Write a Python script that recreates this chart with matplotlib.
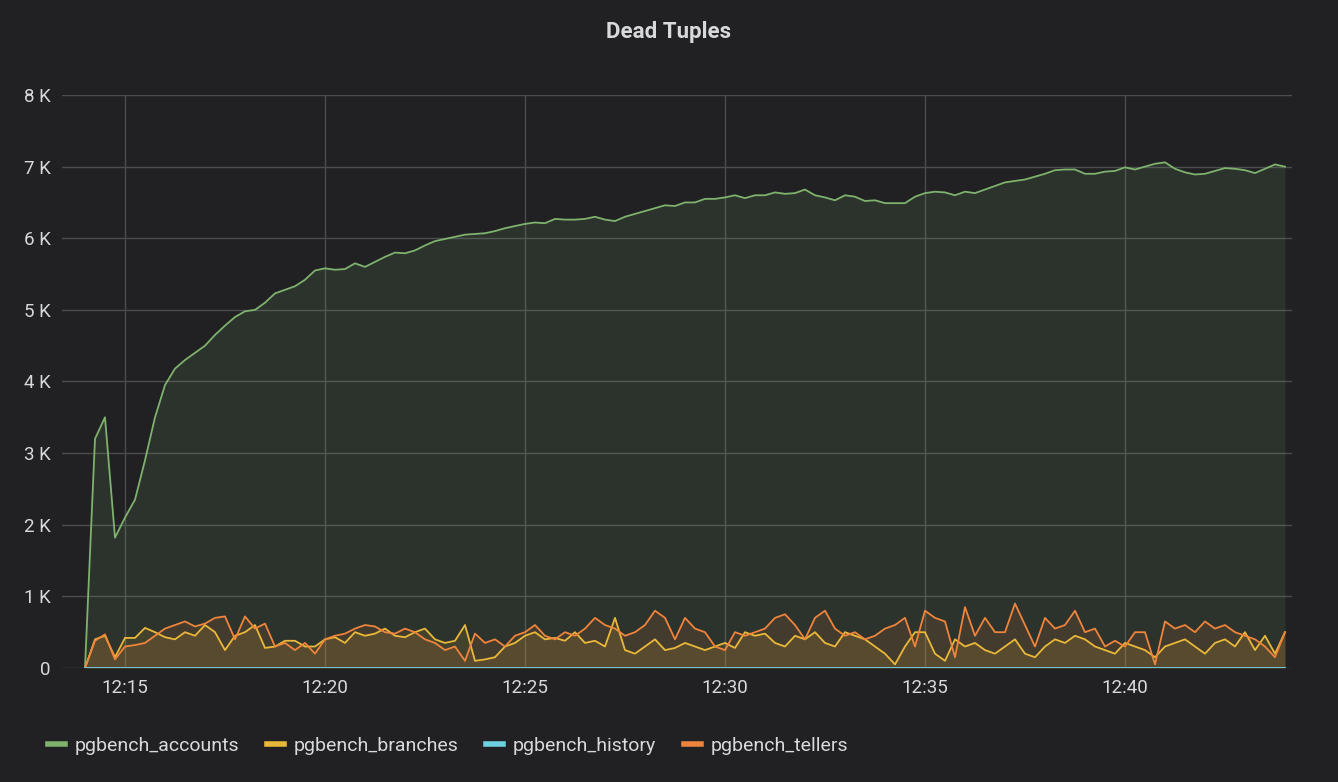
import numpy as np
import matplotlib.pyplot as plt
from matplotlib.lines import Line2D

plt.rcParams["font.family"] = ["Roboto", "DejaVu Sans"]

# values in thousands / units, sampled evenly from 12:14 to 12:44
accounts_k = [0, 3.2, 3.5, 1.82, 2.1, 2.35, 2.9, 3.5, 3.95, 4.18, 4.3, 4.4, 4.5, 4.65, 4.78, 4.9,
              4.98, 5.0, 5.1, 5.23, 5.28, 5.33, 5.42, 5.55, 5.58, 5.56, 5.57, 5.65, 5.6, 5.67, 5.74,
              5.8, 5.79, 5.83, 5.9, 5.96, 5.99, 6.02, 6.05, 6.06, 6.07, 6.1, 6.14, 6.17, 6.2, 6.22,
              6.21, 6.27, 6.26, 6.26, 6.27, 6.3, 6.26, 6.24, 6.3, 6.34, 6.38, 6.42, 6.46, 6.45, 6.5,
              6.5, 6.55, 6.55, 6.57, 6.6, 6.56, 6.6, 6.6, 6.64, 6.62, 6.63, 6.68, 6.6, 6.57, 6.53,
              6.6, 6.58, 6.52, 6.53, 6.49, 6.49, 6.49, 6.58, 6.63, 6.65, 6.64, 6.6, 6.65, 6.63, 6.68,
              6.73, 6.78, 6.8, 6.82, 6.86, 6.9, 6.95, 6.96, 6.96, 6.9, 6.9, 6.93, 6.94, 6.99, 6.96,
              7.0, 7.04, 7.06, 6.97, 6.92, 6.89, 6.9, 6.94, 6.98, 6.97, 6.95, 6.91, 6.97, 7.03, 7.0]
branches = [0, 400, 450, 150, 420, 420, 560, 500, 430, 400, 500, 450, 600, 500, 250, 450, 500, 600,
            280, 300, 380, 380, 300, 300, 400, 430, 350, 500, 450, 480, 550, 450, 430, 500, 550, 400,
            350, 380, 600, 100, 120, 150, 300, 350, 450, 500, 400, 420, 380, 500, 350, 380, 300, 700,
            250, 200, 300, 400, 250, 280, 350, 300, 250, 300, 350, 280, 500, 450, 480, 350, 300, 450,
            400, 500, 350, 300, 500, 450, 400, 300, 200, 50, 300, 500, 500, 200, 100, 400, 300, 350,
            250, 200, 300, 400, 200, 150, 300, 400, 350, 450, 400, 300, 250, 200, 350, 300, 250, 150,
            300, 350, 400, 300, 200, 350, 400, 300, 500, 250, 450, 200, 500]
history = [0] * 121
tellers = [0, 380, 470, 120, 300, 320, 350, 450, 550, 600, 650, 580, 620, 700, 720, 400, 720, 550,
           620, 300, 350, 250, 350, 200, 400, 450, 480, 550, 600, 580, 500, 480, 550, 500, 400, 350,
           250, 300, 100, 480, 350, 400, 300, 450, 500, 600, 450, 400, 500, 450, 550, 700, 600, 550,
           450, 500, 600, 800, 700, 400, 700, 550, 500, 300, 250, 500, 450, 500, 550, 700, 750, 600,
           400, 700, 800, 550, 450, 500, 400, 450, 550, 600, 700, 300, 800, 700, 650, 150, 850, 450,
           700, 500, 500, 900, 600, 300, 700, 550, 600, 800, 500, 550, 300, 380, 300, 500, 500, 50,
           650, 550, 600, 500, 650, 550, 600, 500, 450, 400, 300, 150, 500]

series = [
    ("pgbench_accounts", np.array(accounts_k) * 1000, "#7eb26d"),
    ("pgbench_branches", np.array(branches), "#eab839"),
    ("pgbench_history", np.array(history), "#6ed0e0"),
    ("pgbench_tellers", np.array(tellers), "#ef843c"),
]
tick_minutes = [1, 6, 11, 16, 21, 26]
tick_labels = ["12:15", "12:20", "12:25", "12:30", "12:35", "12:40"]

bg = "#212124"
fg = "#d8d9da"
fig = plt.figure(figsize=(13.38, 7.82), dpi=100, facecolor=bg)
ax = fig.add_axes([62 / 1338, 1 - 668 / 782, (1292 - 62) / 1338, (668 - 95) / 782], facecolor=bg)

# draw history last so its flat line stays visible on the baseline
for name, vals, col in [series[0], series[1], series[3], series[2]]:
    t = np.linspace(0, 30, len(vals))
    ax.fill_between(t, vals, color=col, alpha=0.12, lw=0)
    ax.plot(t, vals, color=col, lw=1.3)

ax.set_xlim(-0.575, 30.175)
ax.set_ylim(0, 8000)
ax.set_yticks(range(0, 8001, 1000))
ax.set_yticklabels(["0"] + [f"{i} K" for i in range(1, 9)])
ax.set_xticks(tick_minutes)
ax.set_xticklabels(tick_labels)
ax.grid(True, color="#4c4c50", lw=1)
ax.set_axisbelow(True)
for s in ax.spines.values():
    s.set_visible(False)
ax.tick_params(colors=fg, labelsize=13.5, length=0, pad=8)

fig.text(0.5, 1 - 32 / 782, "Dead Tuples", color=fg, fontsize=16, fontweight="bold",
         ha="center", va="center")

handles = [Line2D([], [], color=c, lw=4) for _, _, c in series]
fig.legend(handles, [n for n, _, _ in series], loc="center left",
           bbox_to_anchor=(30 / 1338, 1 - 746 / 782), ncol=4, frameon=False,
           labelcolor=fg, fontsize=14, handlelength=0.9, columnspacing=1.4, handletextpad=0.5)

fig.savefig("out.png", dpi=100, facecolor=bg)
